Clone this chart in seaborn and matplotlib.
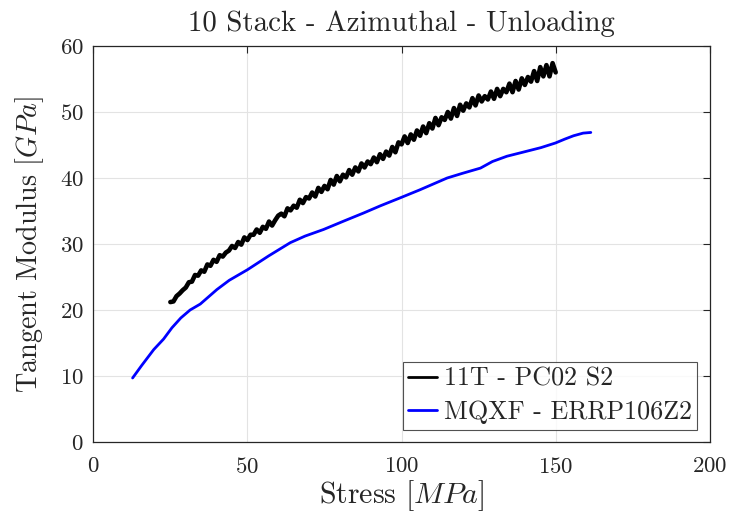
import numpy as np
import pandas as pd
import matplotlib
matplotlib.use("Agg")
import matplotlib.pyplot as plt
import seaborn as sns

# 11T - PC02 S2 (measured, noisy)
stress_11t = list(range(25, 151))
modulus_11t = [
    21.2, 21.3, 22.1, 22.5, 23.0, 23.4, 24.2, 24.3, 25.3, 25.2,
    26.0, 25.8, 26.9, 26.7, 27.6, 27.3, 28.3, 28.1, 28.7, 29.0,
    29.7, 29.4, 30.3, 29.9, 31.0, 30.6, 31.4, 31.4, 32.2, 31.7,
    32.6, 32.3, 33.4, 32.8, 33.6, 34.3, 34.6, 34.2, 35.4, 35.1,
    35.8, 35.5, 36.7, 36.2, 37.1, 36.9, 37.8, 37.2, 38.5, 37.9,
    38.8, 38.3, 39.7, 39.0, 40.3, 39.5, 40.5, 40.1, 41.2, 40.5,
    41.6, 41.0, 42.2, 41.6, 42.5, 42.1, 43.1, 42.4, 43.6, 42.9,
    44.0, 43.4, 44.7, 43.9,
    45.4, 45.1, 46.3, 45.3,
    46.6, 45.8, 47.2, 46.4, 47.8, 46.8, 48.3, 47.5, 49.1, 48.0,
    49.2, 48.8, 50.0, 49.0, 50.6, 49.4, 51.1, 50.2, 51.3, 50.7,
    52.1, 51.0, 52.5, 51.6, 52.4, 51.9, 53.1, 52.0, 53.5, 52.4,
    53.5, 53.0, 54.3, 53.0, 54.7, 53.4, 55.1, 54.1, 55.3, 54.6,
    56.2, 54.7, 56.8, 55.4, 57.1, 55.4, 57.4, 56.0,
]

# MQXF - ERRP106Z2
stress_mqxf = [12.75, 15.7, 19.6, 22.8, 25.5, 28.4, 31.4, 34.7, 40.1, 44.1,
               50.0, 56.9, 63.9, 68.7, 74.7, 81.4, 87.7, 93.2, 99.6, 105.9,
               114.8, 119.7, 125.6, 129.5, 134.2, 139.3, 145.2, 149.9, 153.0,
               155.8, 158.9, 161.4]
modulus_mqxf = [9.7, 11.6, 14.0, 15.6, 17.3, 18.8, 20.0, 20.9, 23.1, 24.5,
                26.1, 28.2, 30.2, 31.2, 32.2, 33.5, 34.7, 35.8, 37.0, 38.2,
                40.0, 40.7, 41.5, 42.5, 43.3, 43.9, 44.6, 45.3, 45.9,
                46.4, 46.8, 46.9]

labels = ["11T - PC02 S2", "MQXF - ERRP106Z2"]

df = pd.concat([
    pd.DataFrame({"Stress": stress_11t, "Modulus": modulus_11t, "Series": labels[0]}),
    pd.DataFrame({"Stress": stress_mqxf, "Modulus": modulus_mqxf, "Series": labels[1]}),
])

sns.set_theme(style="white")
plt.rcParams["font.family"] = ["cmr10", "DejaVu Serif"]
plt.rcParams["mathtext.fontset"] = "cm"
plt.rcParams["axes.formatter.use_mathtext"] = True

fig = plt.figure(figsize=(7.43, 5.14), dpi=100)
ax = fig.add_axes([93.3 / 743, 72 / 514, 616.5 / 743, 396 / 514])

sns.lineplot(data=df, x="Stress", y="Modulus", hue="Series",
             palette={labels[0]: "black", labels[1]: "#0000ff"},
             estimator=None, sort=False, ax=ax, legend=True)
lines = ax.get_lines()
lines[0].set_linewidth(3.3)
lines[1].set_linewidth(2.0)

ax.set_xlim(0, 200)
ax.set_ylim(0, 60)
ax.set_xticks([0, 50, 100, 150, 200])
ax.set_yticks([0, 10, 20, 30, 40, 50, 60])
ax.grid(True, color="#e3e3e3", linewidth=0.8)
ax.set_axisbelow(True)
for s in ax.spines.values():
    s.set_color("#262626")
    s.set_linewidth(0.9)
ax.tick_params(direction="in", length=5, width=0.8, top=True, right=True,
               labelsize=16.5, colors="#262626")
ax.tick_params(axis="x", pad=10.5)
ax.tick_params(axis="y", pad=7)
for t in ax.get_xticklabels() + ax.get_yticklabels():
    t.set_color("#262626")

ax.set_xlabel(r"Stress $[MPa]$", fontsize=21.5, color="#262626", labelpad=1)
ax.set_ylabel(r"Tangent Modulus $[GPa]$", fontsize=20.3, color="#262626", labelpad=9.5)
ax.set_title("10 Stack - Azimuthal - Unloading", fontsize=20.8, pad=11)

leg = ax.legend(loc="lower right", fontsize=18.75, frameon=True, fancybox=False,
                handlelength=1.1, handletextpad=0.28, borderpad=0.2,
                labelspacing=0.38, borderaxespad=0.48)
leg.get_frame().set_edgecolor("#262626")
leg.get_frame().set_linewidth(0.8)
leg.set_title(None)
for h in leg.get_lines():
    h.set_linewidth(2.0)

fig.savefig("out.png", dpi=100)
